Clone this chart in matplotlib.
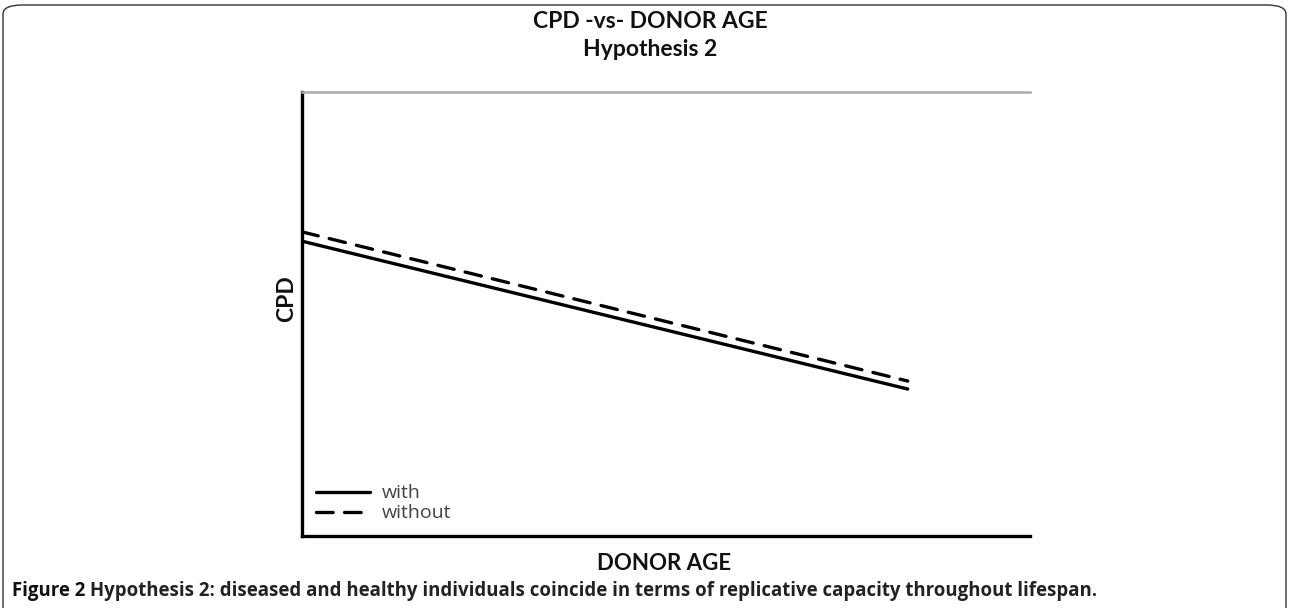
import matplotlib
matplotlib.use("Agg")
import matplotlib.pyplot as plt
from matplotlib.patches import FancyBboxPatch

# data (arbitrary units, schematic)
age = [0.0, 8.32]
cpd_with = [6.64, 3.31]
cpd_without = [6.85, 3.49]
labels = ["with", "without"]

title1 = "CPD -vs- DONOR AGE"
title2 = "Hypothesis 2"
xlabel = "DONOR AGE"
ylabel = "CPD"
caption_bold = "Figure 2"
caption_rest = ("Hypothesis 2: diseased and healthy individuals coincide in terms of "
                "replicative capacity throughout lifespan.")

W, H = 1290, 608
fig = plt.figure(figsize=(W / 100, H / 100), dpi=100)
fig.patch.set_facecolor("white")

# outer rounded frame
frame = FancyBboxPatch((3 / W, -0.05), (1286 - 3) / W, (H - 5) / H + 0.05,
                       boxstyle="round,pad=0,rounding_size=0.015",
                       transform=fig.transFigure, fill=False,
                       edgecolor="#333333", linewidth=1.0, zorder=0)
fig.patches.append(frame)

ax = fig.add_axes([302 / W, 1 - 536 / H, (1030 - 302) / W, (536 - 92) / H])
ax.set_xlim(0, 10)
ax.set_ylim(0, 10)

ax.plot(age, cpd_with, color="black", lw=2.4, solid_capstyle="round", label=labels[0])
ax.plot(age, cpd_without, color="black", lw=2.4, dashes=(5, 3.4),
        dash_capstyle="round", label=labels[1])

ax.spines["right"].set_visible(False)
ax.spines["left"].set_linewidth(2.4)
ax.spines["bottom"].set_linewidth(2.4)
ax.spines["left"].set_color("black")
ax.spines["bottom"].set_color("black")
ax.spines["top"].set_color("#aaaaaa")
ax.spines["top"].set_linewidth(1.8)
ax.set_xticks([])
ax.set_yticks([])

ax.set_xlabel(xlabel, fontsize=16, fontweight="bold", family="Lato", color="#111111")
ax.set_ylabel(ylabel, fontsize=16.5, fontweight="bold", family="Lato", color="#111111")
ax.xaxis.set_label_coords((664 - 302) / 728, (536 - 564) / 444)
ax.xaxis.label.set_va("center")
ax.yaxis.set_label_coords((287 - 302) / 728, (536 - 299) / 444)
ax.yaxis.label.set_va("center")

leg = ax.legend(loc="lower left", bbox_to_anchor=(0.0, 0.0), frameon=False,
                prop={"family": "Open Sans", "size": 14}, handlelength=2.8,
                handletextpad=0.6, labelspacing=0.1, borderaxespad=0.4,
                borderpad=0.3)
for t in leg.get_texts():
    t.set_color("#444444")

fig.text(650 / W, 1 - 21 / H, title1, ha="center", va="center", fontsize=16.5,
         fontweight="bold", family="Lato", color="#111111")
fig.text(650 / W, 1 - 49 / H, title2, ha="center", va="center", fontsize=16.5,
         fontweight="bold", family="Lato", color="#111111")

cap = fig.text(12 / W, 1 - 591 / H, caption_bold, ha="left", va="center", fontsize=13.4,
               fontweight="bold", family="Open Sans", color="#111111")
fig.canvas.draw()
bb = cap.get_window_extent()
fig.text((bb.x1 + 5) / W, 1 - 591 / H, caption_rest,
         ha="left", va="center", fontsize=13.4, fontweight="bold", family="Open Sans",
         color="#222222")

fig.savefig("out.png", dpi=100, facecolor="white")
